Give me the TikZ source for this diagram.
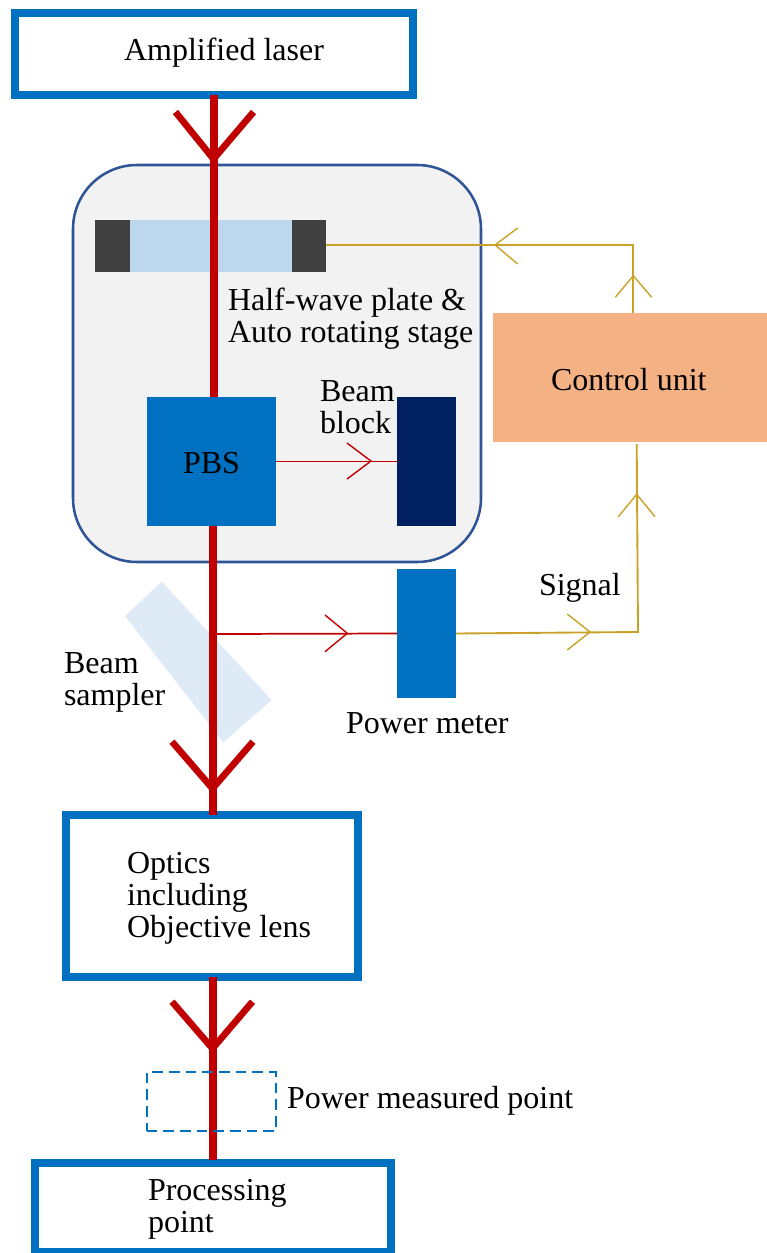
\documentclass[tikz,border=0pt]{standalone}
\usepackage{fontspec}
\setmainfont{Liberation Serif}
\definecolor{beamred}{HTML}{C00000}
\definecolor{boxblue}{HTML}{0070C0}
\definecolor{navy}{HTML}{002060}
\definecolor{sig}{HTML}{C9A227}
\definecolor{panel}{HTML}{F2F2F2}
\definecolor{panelline}{HTML}{2F5597}
\definecolor{platelight}{HTML}{BDD7EE}
\definecolor{holder}{HTML}{404040}
\definecolor{ctrl}{HTML}{F4B183}
\definecolor{sampler}{HTML}{DEEAF6}
\tikzset{
  sz/.style 2 args={minimum width=#1*0.75pt,minimum height=#2*0.75pt,inner sep=0pt,outer sep=0pt},
  framebox/.style={draw=boxblue,fill=white,line width=6pt},
  solid box/.style={fill=#1},
  lbl/.style={font=\fontsize{24}{24}\selectfont,inner sep=0pt,outer sep=0pt,anchor=base west,text=black},
  mlbl/.style={lbl,align=left},
  beam/.style={draw=beamred,line width=6pt},
  chev/.style={draw=beamred,line width=5pt,miter limit=10},
  thinred/.style={draw=beamred,line width=1.3pt},
  thinchev/.style={draw=beamred,line width=1.05pt},
  sigline/.style={draw=sig,line width=1.4pt},
  sigchev/.style={draw=sig,line width=1.05pt},
}
\begin{document}
\begin{tikzpicture}[x=0.75pt,y=-0.75pt]
\useasboundingbox (0,0) rectangle (767,1253);
\clip (0,0) rectangle (767,1253);
% panel
\node[sz={408}{397},draw=panelline,fill=panel,line width=1.9pt,rounded corners=48pt] (panel) at (277,363.5) {};
% plate
\node[sz={162}{52},solid box=platelight] (plate) at (211,246) {};
\node[sz={35}{52},solid box=holder] (holderL) at (112.5,246) {};
\node[sz={34}{52},solid box=holder] (holderR) at (309,246) {};
% sampler
\fill[sampler] (161.7,581.7) -- (271.7,700) -- (223.3,742.3) -- (125,616) -- cycle;
% boxes
\node[sz={398}{82},framebox] (laser) at (213.5,53.5) {};
\node[sz={291.4}{162},framebox] (optics) at (212,895.7) {};
\node[sz={356.2}{89},framebox] (proc) at (212.6,1207.5) {};
\node[sz={129}{129},solid box=boxblue] (pbs) at (211.5,461.5) {};
\node[sz={59}{129},solid box=navy] (block) at (426.5,461.5) {};
\node[sz={59}{129},solid box=boxblue] (meter) at (426.5,633.5) {};
\node[sz={274}{129},solid box=ctrl] (control) at (630,377.5) {};
% beams
\coordinate (b1top) at (213.5,95);
\coordinate (b1bot) at (213.5,397);
\coordinate (b2top) at (212.5,526);
\coordinate (b2bot) at (212.5,814.5);
\coordinate (b3top) at (212.5,977);
\coordinate (b3bot) at (212.5,1159.5);
\draw[beam] (b1top) -- (b1bot);
\draw[beam] (b2top) -- (b2bot);
\draw[beam] (b3top) -- (b3bot);
\draw[chev] (175.5,112) -- (213.5,159) -- (253.5,112);
\draw[chev] (172,741.7) -- (212.5,788.5) -- (253,741.7);
\draw[chev] (172,1001.7) -- (212.5,1048.5) -- (252.5,1001.7);
% thin red
\coordinate (tap) at (216,634);
\draw[thinred] (pbs.east) -- (block.west);
\draw[thinchev] (347,443) -- (371,461) -- (347,479);
\draw[thinred] (tap) -- (meter.west);
\draw[thinchev] (325,615) -- (347.3,633.3) -- (325,651.7);
% signal lines
\coordinate (c1) at (633.3,245);
\coordinate (c2) at (638,632);
\coordinate (c3) at (636.7,444);
\draw[sigline] (holderR.east |- c1) -- (c1) -- (c1 |- control.north);
\draw[sigchev] (517.7,228) -- (495,245) -- (517.7,264);
\draw[sigchev] (615.3,297.3) -- (633.3,275.7) -- (651.7,297.3);
\draw[sigline] (meter.east) -- (c2) -- (c3);
\draw[sigchev] (567.3,614) -- (590,632) -- (567.3,650);
\draw[sigchev] (618.3,516.7) -- (636.7,494.3) -- (655,516.7);
% dashed
\node[sz={129}{58.5},draw=boxblue,line width=1.5pt,dash pattern=on 8pt off 4.5pt] (pmp) at (211,1101.7) {};
% labels
\node[lbl] (tlaser) at (124,60) {Amplified laser};
\node[lbl] (tpbs) at (183,473) {PBS};
\node[lbl] (tcontrol) at (551,390) {Control unit};
\node[mlbl] (tplate) at (228,342) {Half-wave plate \&\\Auto rotating stage};
\node[mlbl] (tblock) at (320,433) {Beam\\block};
\node[mlbl] (tsampler) at (64,705) {Beam\\sampler};
\node[lbl] (tsignal) at (539,595) {Signal};
\node[lbl] (tmeter) at (346,733) {Power meter};
\node[mlbl] (toptics) at (127,937) {Optics\\including\\Objective lens};
\node[lbl] (tpmp) at (287,1108) {Power measured point};
\node[mlbl] (tproc) at (148,1232) {Processing\\point};
\end{tikzpicture}
\end{document}
